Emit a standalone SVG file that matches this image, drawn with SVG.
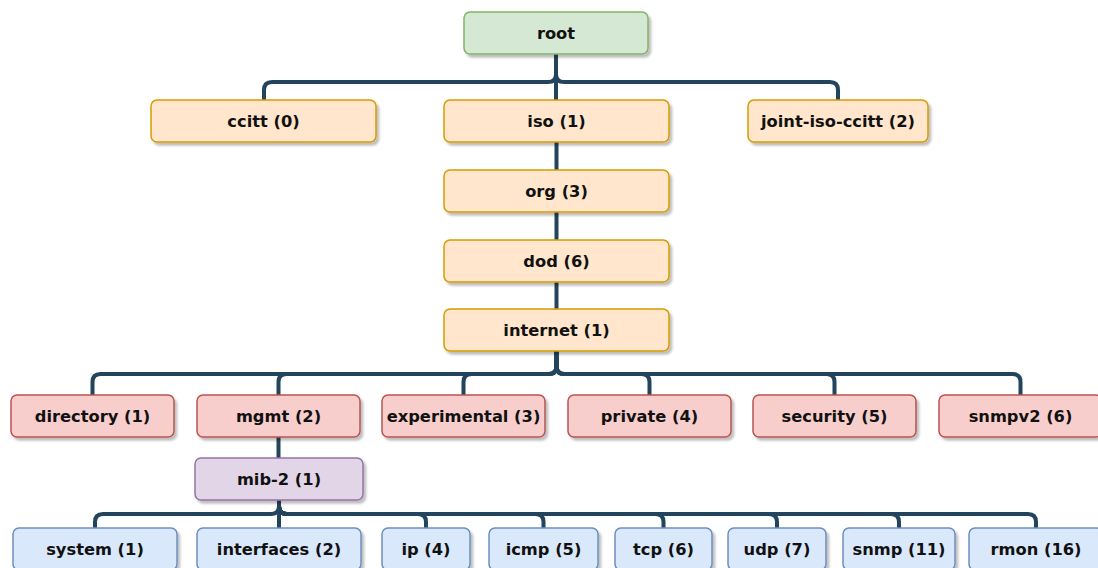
<svg xmlns="http://www.w3.org/2000/svg" width="1098" height="568" viewBox="0 0 1098 568">
<defs>
<filter id="sh" x="-10%" y="-20%" width="130%" height="160%">
<feDropShadow dx="2.5" dy="3" stdDeviation="1.2" flood-color="#000" flood-opacity="0.25"/>
</filter>
<style>
.n rect{stroke-width:1.5;filter:url(#sh)}
.g rect{fill:#d5e8d4;stroke:#82b366}
.o rect{fill:#ffe6cc;stroke:#d79b00}
.r rect{fill:#f8cecc;stroke:#b85450}
.p rect{fill:#e1d5e7;stroke:#9673a6}
.b rect{fill:#dae8fc;stroke:#6c8ebf}
.n text{font-family:"DejaVu Sans",Verdana,sans-serif;font-weight:bold;font-size:16.3px;fill:#111;text-anchor:middle}
#edges path{fill:none;stroke:#23445d;stroke-width:4}
</style>
</defs>
<rect width="1098" height="568" fill="#fff"/>
<g id="edges">
<path d="M556,54 V74 Q556,82 548,82 H272 Q264,82 264,90 V100"/>
<path d="M556,54 V100"/>
<path d="M556,54 V74 Q556,82 564,82 H830 Q838,82 838,90 V100"/>
<path d="M556.5,142 V170"/>
<path d="M556.5,212 V240"/>
<path d="M556.5,282 V309"/>
<path d="M556.5,351 V366 Q556.5,374 548.5,374 H100.5 Q92.5,374 92.5,382 V395"/>
<path d="M556.5,351 V366 Q556.5,374 548.5,374 H286.5 Q278.5,374 278.5,382 V395"/>
<path d="M556.5,351 V366 Q556.5,374 548.5,374 H471.5 Q463.5,374 463.5,382 V395"/>
<path d="M556.5,351 V366 Q556.5,374 564.5,374 H641.5 Q649.5,374 649.5,382 V395"/>
<path d="M556.5,351 V366 Q556.5,374 564.5,374 H826.5 Q834.5,374 834.5,382 V395"/>
<path d="M556.5,351 V366 Q556.5,374 564.5,374 H1012.5 Q1020.5,374 1020.5,382 V395"/>
<path d="M278.5,437 V458"/>
<path d="M279,500 V506 Q279,514 271,514 H103 Q95,514 95,522 V528"/>
<path d="M279,500 V528"/>
<path d="M279,500 V506 Q279,514 287,514 H418 Q426,514 426,522 V528"/>
<path d="M279,500 V506 Q279,514 287,514 H535.5 Q543.5,514 543.5,522 V528"/>
<path d="M279,500 V506 Q279,514 287,514 H655.5 Q663.5,514 663.5,522 V528"/>
<path d="M279,500 V506 Q279,514 287,514 H769 Q777,514 777,522 V528"/>
<path d="M279,500 V506 Q279,514 287,514 H891 Q899,514 899,522 V528"/>
<path d="M279,500 V506 Q279,514 287,514 H1028 Q1036,514 1036,522 V528"/>
</g>
<g id="root" class="n g"><rect x="464" y="12" width="184" height="42" rx="6"/><text x="556" y="39">root</text></g>
<g id="ccitt" class="n o"><rect x="151" y="100" width="225" height="42" rx="6"/><text x="263.5" y="127">ccitt (0)</text></g>
<g id="iso" class="n o"><rect x="444" y="100" width="225" height="42" rx="6"/><text x="556.5" y="127">iso (1)</text></g>
<g id="joint-iso-ccitt" class="n o"><rect x="748" y="100" width="180" height="42" rx="6"/><text x="838" y="127">joint-iso-ccitt (2)</text></g>
<g id="org" class="n o"><rect x="444" y="170" width="225" height="42" rx="6"/><text x="556.5" y="197">org (3)</text></g>
<g id="dod" class="n o"><rect x="444" y="240" width="225" height="42" rx="6"/><text x="556.5" y="267">dod (6)</text></g>
<g id="internet" class="n o"><rect x="444" y="309" width="225" height="42" rx="6"/><text x="556.5" y="336">internet (1)</text></g>
<g id="directory" class="n r"><rect x="11" y="395" width="163" height="42" rx="6"/><text x="92.5" y="422">directory (1)</text></g>
<g id="mgmt" class="n r"><rect x="197" y="395" width="163" height="42" rx="6"/><text x="278.5" y="422">mgmt (2)</text></g>
<g id="experimental" class="n r"><rect x="382" y="395" width="163" height="42" rx="6"/><text x="463.5" y="422">experimental (3)</text></g>
<g id="private" class="n r"><rect x="568" y="395" width="163" height="42" rx="6"/><text x="649.5" y="422">private (4)</text></g>
<g id="security" class="n r"><rect x="753" y="395" width="163" height="42" rx="6"/><text x="834.5" y="422">security (5)</text></g>
<g id="snmpv2" class="n r"><rect x="939" y="395" width="163" height="42" rx="6"/><text x="1020.5" y="422">snmpv2 (6)</text></g>
<g id="mib-2" class="n p"><rect x="195" y="458" width="168" height="42" rx="6"/><text x="279" y="485">mib-2 (1)</text></g>
<g id="system" class="n b"><rect x="13" y="528" width="164" height="42" rx="6"/><text x="95" y="555">system (1)</text></g>
<g id="interfaces" class="n b"><rect x="197" y="528" width="164" height="42" rx="6"/><text x="279" y="555">interfaces (2)</text></g>
<g id="ip" class="n b"><rect x="382" y="528" width="88" height="42" rx="6"/><text x="426" y="555">ip (4)</text></g>
<g id="icmp" class="n b"><rect x="489" y="528" width="109" height="42" rx="6"/><text x="543.5" y="555">icmp (5)</text></g>
<g id="tcp" class="n b"><rect x="615" y="528" width="97" height="42" rx="6"/><text x="663.5" y="555">tcp (6)</text></g>
<g id="udp" class="n b"><rect x="728" y="528" width="98" height="42" rx="6"/><text x="777" y="555">udp (7)</text></g>
<g id="snmp" class="n b"><rect x="843" y="528" width="112" height="42" rx="6"/><text x="899" y="555">snmp (11)</text></g>
<g id="rmon" class="n b"><rect x="969" y="528" width="134" height="42" rx="6"/><text x="1036" y="555">rmon (16)</text></g>
</svg>
